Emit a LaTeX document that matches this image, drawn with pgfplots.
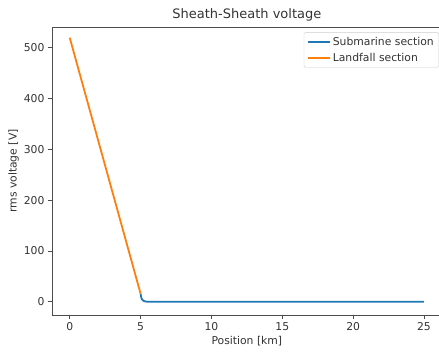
\documentclass[border=0pt]{standalone}
\usepackage{fontspec}
\setmainfont{DejaVu Sans}
\usepackage{pgfplots}
\pgfplotsset{compat=1.18}
\definecolor{mplblue}{HTML}{1F77B4}
\definecolor{mplorange}{HTML}{FF7F0E}
\definecolor{txt}{HTML}{333333}
\begin{document}
\begin{tikzpicture}[x=1pt,y=1pt]
\begin{axis}[
  at={(0,0)}, anchor=south west,
  scale only axis,
  width=389.7pt, height=288pt,
  xmin=-1.25, xmax=26.25,
  ymin=-26, ymax=541,
  xtick={0,5,10,15,20,25},
  ytick={0,100,200,300,400,500},
  tick align=outside,
  tick pos=left,
  major tick length=4pt,
  tick style={black!70, line width=0.9pt},
  axis line style={black!70, line width=0.9pt},
  /pgf/number format/assume math mode=true,
  tick label style={font=\fontsize{10.8}{12}\selectfont, text=txt},
  label style={font=\fontsize{10.8}{12}\selectfont, text=txt},
  title style={font=\fontsize{13}{15}\selectfont, text=txt, yshift=-4pt},
  title={Sheath-Sheath voltage},
  xlabel={Position [km]},
  ylabel={rms voltage [V]},
  xlabel style={yshift=1pt},
  ylabel style={yshift=-2pt},
  legend style={at={(0.993,0.982)}, anchor=north east, draw=black!20, rounded corners=1.5pt,
    font=\fontsize{10.8}{12}\selectfont, text=txt, row sep=2.5pt, inner xsep=3pt, inner ysep=2.5pt},
  legend cell align=left,
  legend image code/.code={\draw[#1, line width=1.8pt] (0pt,0pt) -- (22pt,0pt);},
]
\addplot[mplblue, line width=1.8pt, line join=round] coordinates {
  (5.0,16) (5.03,11) (5.06,7.5) (5.1,5) (5.15,3.2) (5.2,2.1) (5.27,1.2) (5.35,0.6) (5.45,0.3) (5.6,0.1) (6,0) (25,0)
};
\addlegendentry{Submarine section}
\addplot[mplorange, line width=1.8pt] coordinates {
  (0,520) (5,16)
};
\addlegendentry{Landfall section}
\end{axis}
\pgfresetboundingbox
\path[use as bounding box] (-52,-36) rectangle (387,315);
\end{tikzpicture}
\end{document}
